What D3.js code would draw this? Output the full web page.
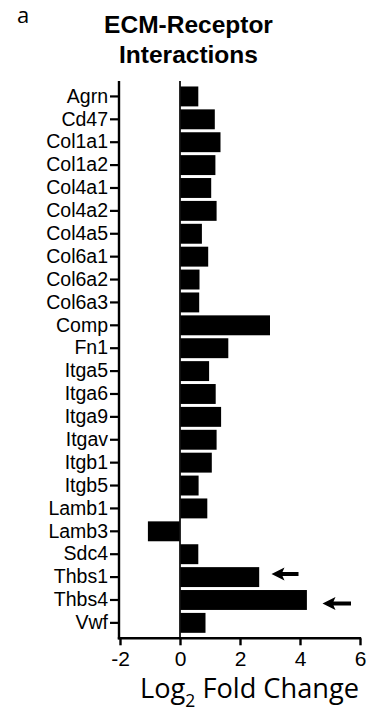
<!DOCTYPE html>
<html>
<head>
<meta charset="utf-8">
<script src="https://cdn.jsdelivr.net/npm/d3@7/dist/d3.min.js"></script>
<style>
  html, body { margin: 0; padding: 0; background: #fff; }
  svg { display: block; }
</style>
</head>
<body>
<svg id="chart" width="367" height="711"></svg>
<script>
// ECM-receptor interaction genes and their log2 fold change
const genes = ["Agrn", "Cd47", "Col1a1", "Col1a2", "Col4a1", "Col4a2", "Col4a5", "Col6a1",
  "Col6a2", "Col6a3", "Comp", "Fn1", "Itga5", "Itga6", "Itga9", "Itgav", "Itgb1", "Itgb5",
  "Lamb1", "Lamb3", "Sdc4", "Thbs1", "Thbs4", "Vwf"];
const log2FoldChange = [0.61, 1.16, 1.35, 1.18, 1.04, 1.22, 0.73, 0.94,
  0.65, 0.64, 3.0, 1.61, 0.97, 1.19, 1.37, 1.22, 1.06, 0.62,
  0.91, -1.07, 0.61, 2.64, 4.23, 0.85];
const xTicks = [-2, 0, 2, 4, 6];
// highlighted genes: arrow tip and tail in fold-change units
const arrowGenes = ["Thbs1", "Thbs4"];
const arrowTip = [3.05, 4.75];
const arrowTail = [3.95, 5.7];

const svg = d3.select("#chart");
const sansFont = "'Liberation Sans', Arial, sans-serif";
const humanistFont = "'Open Sans', Lato, sans-serif";

const x = d3.scaleLinear().domain([-2, 6]).range([120, 360]);
const y = d3.scaleBand().domain(genes).range([83.5, 635.8]).padding(0.13);

const axisTop = 81, axisBottom = 638.3;

// panel letter
svg.append("text")
  .attr("x", 17).attr("y", 23)
  .style("font-family", humanistFont)
  .style("font-size", "22px")
  .text("a");

// title
const title = svg.append("text")
  .attr("text-anchor", "middle")
  .style("font-family", sansFont)
  .style("font-weight", "bold")
  .style("font-size", "24.5px");
title.append("tspan").attr("x", 188.5).attr("y", 32.7).text("ECM-Receptor");
title.append("tspan").attr("x", 188.5).attr("y", 63.3).text("Interactions");

// bars
svg.append("g")
  .selectAll("rect")
  .data(genes)
  .join("rect")
  .attr("x", (d, i) => x(Math.min(0, log2FoldChange[i])))
  .attr("y", d => y(d))
  .attr("width", (d, i) => Math.abs(x(log2FoldChange[i]) - x(0)))
  .attr("height", y.bandwidth())
  .attr("fill", "#000");

// zero reference line
svg.append("line")
  .attr("x1", x(0)).attr("x2", x(0))
  .attr("y1", axisTop).attr("y2", axisBottom)
  .attr("stroke", "#111").attr("stroke-width", 1.8);

// y axis
const yAxis = svg.append("g")
  .attr("transform", `translate(${x(-2) - 1},0)`)
  .call(d3.axisLeft(y).tickSize(9).tickSizeOuter(0).tickPadding(2));
yAxis.select(".domain").remove();
yAxis.selectAll(".tick line").attr("stroke", "#000").attr("stroke-width", 2.2);
yAxis.selectAll(".tick text")
  .style("font-family", sansFont)
  .style("font-size", "19.5px")
  .attr("fill", "#000");
svg.append("line")
  .attr("x1", x(-2) - 1).attr("x2", x(-2) - 1)
  .attr("y1", axisTop).attr("y2", axisBottom + 1)
  .attr("stroke", "#000").attr("stroke-width", 2.4);

// x axis
const xAxis = svg.append("g")
  .attr("transform", `translate(0,${axisBottom})`)
  .call(d3.axisBottom(x).tickValues(xTicks).tickSize(7).tickSizeOuter(0).tickPadding(6)
    .tickFormat(d => String(d)));
xAxis.select(".domain").remove();
xAxis.selectAll(".tick line").attr("stroke", "#000").attr("stroke-width", 2.4);
xAxis.selectAll(".tick text")
  .style("font-family", sansFont)
  .style("font-size", "21px")
  .attr("fill", "#000");
svg.append("line")
  .attr("x1", x(-2) - 2.2).attr("x2", x(6) + 1.2)
  .attr("y1", axisBottom).attr("y2", axisBottom)
  .attr("stroke", "#000").attr("stroke-width", 2.4);

// x axis title
const xTitle = svg.append("text")
  .attr("x", 140).attr("y", 697.5)
  .style("font-family", humanistFont)
  .style("font-size", "27.2px")
  .attr("fill", "#000");
xTitle.append("tspan").text("Log");
xTitle.append("tspan").attr("dy", 9).style("font-size", "17.5px").text("2");
xTitle.append("tspan").attr("dy", -9).text(" Fold Change");

// arrows pointing at highlighted genes
const arrowOffset = [-3, 3.5];
const arrowG = svg.append("g");
arrowGenes.forEach((g, i) => {
  const cy = y(g) + y.bandwidth() / 2 + arrowOffset[i];
  const tip = x(arrowTip[i]), tail = x(arrowTail[i]);
  const headLen = 13, headHalf = 6.5, shaft = 2;
  arrowG.append("path")
    .attr("d", `M${tip},${cy} L${tip + headLen},${cy - headHalf} L${tip + headLen - 2},${cy - shaft}
      L${tail},${cy - shaft} L${tail},${cy + shaft} L${tip + headLen - 2},${cy + shaft}
      L${tip + headLen},${cy + headHalf} Z`)
    .attr("fill", "#000");
});
</script>
</body>
</html>
